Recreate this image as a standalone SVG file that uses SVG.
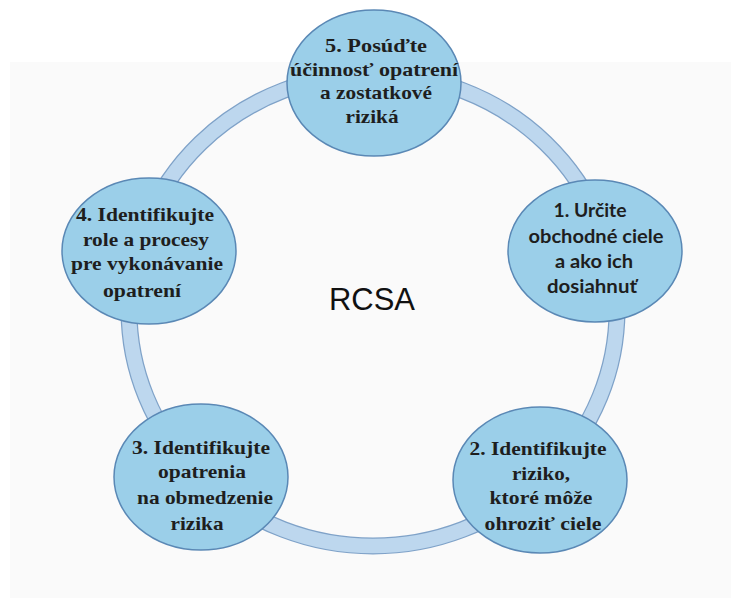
<svg xmlns="http://www.w3.org/2000/svg" width="731" height="605" viewBox="0 0 731 605">
  <style>
    .node { fill: #9bcfe9; stroke: #5a88b5; stroke-width: 1.5; }
    .serif { font-family: "Liberation Serif", "Times New Roman", serif; font-weight: bold; font-size: 19px; fill: #1e1e1e; text-anchor: middle; }
    .sans { font-family: Lato, "Liberation Sans", Arial, sans-serif; font-weight: bold; font-size: 18px; fill: #1e1e1e; text-anchor: middle; }
    .title { font-family: "Liberation Sans", Arial, sans-serif; font-size: 32px; fill: #111; text-anchor: middle; }
  </style>
  <rect x="0" y="0" width="731" height="605" fill="#ffffff"/>
  <rect x="10" y="62" width="721" height="536" fill="#fafafa"/>

  <g id="connectors">
    <ellipse cx="373" cy="310" rx="244" ry="236" fill="none" stroke="#7fa2c8" stroke-width="17"/>
    <ellipse cx="373" cy="310" rx="244" ry="236" fill="none" stroke="#bdd7ee" stroke-width="14.5"/>
  </g>

  <text id="center-label" class="title" x="372" y="310" textLength="86" lengthAdjust="spacingAndGlyphs">RCSA</text>

  <g id="node5">
    <ellipse class="node" cx="374" cy="83" rx="87" ry="73"/>
    <text class="serif" x="376" y="52" textLength="102" lengthAdjust="spacingAndGlyphs">5. Posúďte</text>
    <text class="serif" x="374" y="76" textLength="168" lengthAdjust="spacingAndGlyphs">účinnosť opatrení</text>
    <text class="serif" x="376" y="99" textLength="112" lengthAdjust="spacingAndGlyphs">a zostatkové</text>
    <text class="serif" x="372" y="123" textLength="53" lengthAdjust="spacingAndGlyphs">riziká</text>
  </g>

  <g id="node1">
    <ellipse class="node" cx="595" cy="251" rx="87" ry="71"/>
    <text class="sans" x="590" y="217" textLength="73" lengthAdjust="spacingAndGlyphs">1. Určite</text>
    <text class="sans" x="596" y="243" textLength="135" lengthAdjust="spacingAndGlyphs">obchodné ciele</text>
    <text class="sans" x="594" y="268" textLength="78" lengthAdjust="spacingAndGlyphs">a ako ich</text>
    <text class="sans" x="592" y="293" textLength="90" lengthAdjust="spacingAndGlyphs">dosiahnuť</text>
  </g>

  <g id="node2">
    <ellipse class="node" cx="540" cy="480" rx="87" ry="73"/>
    <text class="serif" x="538" y="455" textLength="137" lengthAdjust="spacingAndGlyphs">2. Identifikujte</text>
    <text class="serif" x="541" y="480" textLength="58" lengthAdjust="spacingAndGlyphs">riziko,</text>
    <text class="serif" x="541" y="504" textLength="103" lengthAdjust="spacingAndGlyphs">ktoré môže</text>
    <text class="serif" x="543" y="530" textLength="117" lengthAdjust="spacingAndGlyphs">ohroziť ciele</text>
  </g>

  <g id="node3">
    <ellipse class="node" cx="201" cy="477" rx="87" ry="73"/>
    <text class="serif" x="201" y="454" textLength="138" lengthAdjust="spacingAndGlyphs">3. Identifikujte</text>
    <text class="serif" x="202" y="478" textLength="88" lengthAdjust="spacingAndGlyphs">opatrenia</text>
    <text class="serif" x="205" y="504" textLength="136" lengthAdjust="spacingAndGlyphs">na obmedzenie</text>
    <text class="serif" x="197" y="530" textLength="53" lengthAdjust="spacingAndGlyphs">rizika</text>
  </g>

  <g id="node4">
    <ellipse class="node" cx="149" cy="251" rx="87" ry="73"/>
    <text class="serif" x="145" y="221" textLength="138" lengthAdjust="spacingAndGlyphs">4. Identifikujte</text>
    <text class="serif" x="146" y="246" textLength="126" lengthAdjust="spacingAndGlyphs">role a procesy</text>
    <text class="serif" x="147" y="270" textLength="152" lengthAdjust="spacingAndGlyphs">pre vykonávanie</text>
    <text class="serif" x="142" y="297" textLength="78" lengthAdjust="spacingAndGlyphs">opatrení</text>
  </g>
</svg>
